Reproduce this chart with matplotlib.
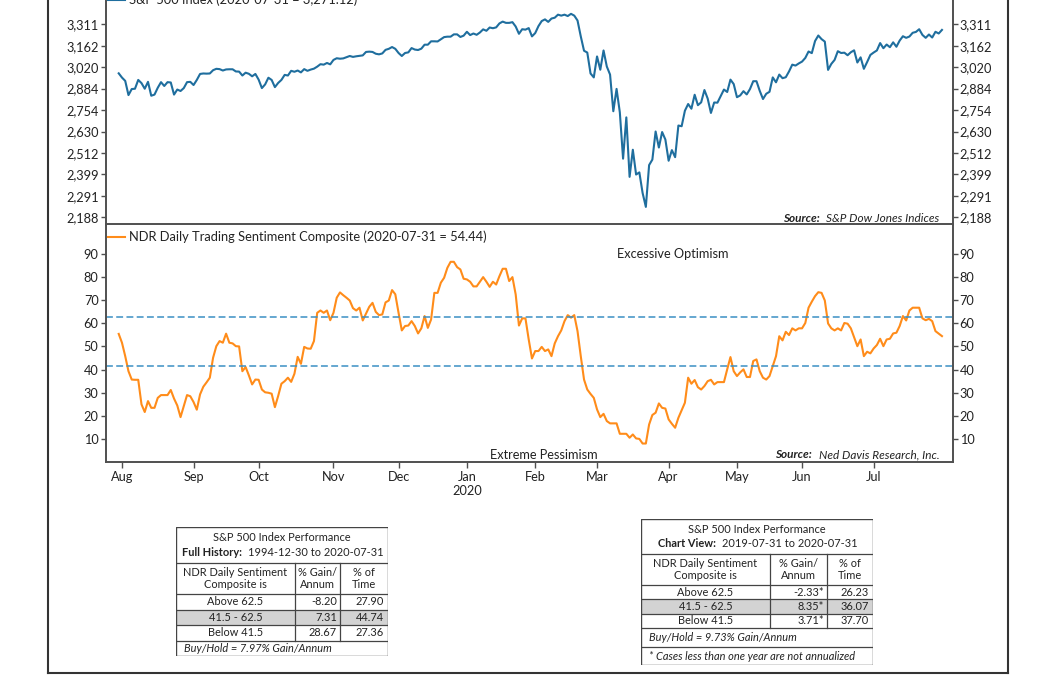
import matplotlib
matplotlib.use("Agg")
import matplotlib.pyplot as plt
import numpy as np
import pandas as pd
from matplotlib.ticker import FixedLocator, FuncFormatter, NullLocator
from matplotlib.lines import Line2D
from matplotlib.patches import Rectangle

plt.rcParams['font.family'] = ['Lato', 'DejaVu Sans']

# ---------------- data ----------------
holidays = ['2019-09-02', '2019-11-28', '2019-12-25', '2020-01-01', '2020-01-20',
            '2020-02-17', '2020-04-10', '2020-05-25', '2020-07-03']
sessions = pd.bdate_range('2019-07-31', '2020-07-31', freq='C', holidays=holidays)

spx = [2980,
       2953, 2932, 2844, 2881, 2883, 2938, 2918, 2883, 2926, 2840, 2847, 2889, 2924, 2900, 2924, 2922, 2847, 2878, 2869, 2887, 2924, 2926,
       2906, 2938, 2976, 2979, 2978, 2979, 3000, 3009, 3007, 2998, 3005, 3006, 3006, 2992, 2991, 2966, 2984, 2977, 2961, 2976,
       2940, 2887, 2910, 2952, 2938, 2893, 2919, 2938, 2970, 2966, 2996, 2990, 2998, 2986, 3007, 2996, 3004, 3010, 3023, 3039, 3036, 3047, 3038,
       3067, 3078, 3075, 3077, 3085, 3093, 3087, 3091, 3094, 3097, 3120, 3122, 3120, 3108, 3104, 3110, 3134, 3141, 3153, 3141,
       3113, 3093, 3113, 3117, 3146, 3136, 3133, 3142, 3169, 3169, 3192, 3192, 3191, 3206, 3221, 3224, 3224, 3240, 3240, 3222, 3231,
       3258, 3235, 3246, 3237, 3253, 3275, 3265, 3288, 3283, 3289, 3317, 3330, 3321, 3321, 3326, 3295, 3244, 3276, 3273, 3284, 3226,
       3249, 3298, 3334, 3346, 3328, 3352, 3358, 3380, 3373, 3380, 3370, 3386, 3373, 3338, 3226, 3128, 3116, 2979, 2954,
       3090, 3003, 3130, 3024, 2972, 2747, 2882, 2741, 2481, 2711, 2386, 2529, 2398, 2409, 2305, 2237, 2447, 2476, 2630, 2541, 2627, 2585,
       2470, 2527, 2489, 2664, 2660, 2750, 2790, 2762, 2846, 2783, 2800, 2875, 2823, 2737, 2799, 2798, 2837, 2878, 2863, 2940, 2912,
       2831, 2842, 2868, 2848, 2881, 2930, 2930, 2870, 2820, 2852, 2864, 2954, 2923, 2972, 2949, 2955, 2992, 3036, 3030, 3044,
       3056, 3080, 3123, 3112, 3194, 3232, 3207, 3190, 3002, 3041, 3067, 3125, 3113, 3115, 3098, 3118, 3131, 3050, 3084, 3009, 3053, 3100,
       3116, 3130, 3180, 3145, 3170, 3152, 3185, 3155, 3197, 3227, 3216, 3225, 3251, 3257, 3276, 3236, 3216, 3239, 3218, 3258, 3246, 3271.12]

sentiment = [55.4, 51.6, 45.8, 39.3, 35.7, 35.6, 35.6, 25.0, 21.7, 26.4,
             23.5, 23.5, 27.8, 29.0, 29.0, 29.0, 31.2, 27.5, 24.5, 19.5,
             24.2, 29.0, 28.5, 26.0, 22.7, 29.3, 32.6, 34.5, 36.5, 45.1,
             50.1, 52.3, 51.6, 55.5, 51.6, 51.3, 50.1, 50.0, 39.3, 41.1,
             37.5, 33.6, 35.7, 35.6, 31.4, 30.2, 30.0, 29.6, 23.8, 28.6,
             33.9, 35.0, 36.5, 34.7, 38.2, 45.5, 42.5, 49.8, 49.1, 49.0,
             52.3, 64.5, 65.5, 64.5, 65.5, 61.3, 64.5, 71.0, 73.3, 72.1,
             71.0, 69.8, 66.5, 65.5, 66.7, 61.2, 64.1, 67.1, 68.8, 64.9,
             63.5, 63.8, 69.0, 69.8, 74.3, 72.5, 64.5, 56.9, 58.8, 59.0,
             60.9, 58.8, 55.6, 57.8, 63.1, 58.0, 61.6, 73.1, 73.1, 77.5,
             79.6, 83.9, 86.5, 86.5, 84.2, 83.2, 79.2, 78.9, 77.9, 75.9,
             75.9, 77.9, 79.9, 77.9, 75.7, 77.9, 76.7, 80.3, 83.5, 83.5,
             78.2, 79.9, 72.4, 59.0, 62.1, 62.1, 53.0, 44.8, 48.0, 48.0,
             49.8, 48.0, 48.7, 45.8, 51.3, 54.4, 56.9, 60.9, 63.5, 62.4,
             63.5, 56.6, 45.8, 35.7, 31.4, 29.5, 27.8, 22.8, 19.5, 20.9,
             17.8, 16.8, 16.8, 16.8, 12.3, 12.3, 12.3, 10.6, 12.0, 10.3,
             10.1, 8.1, 8.1, 16.3, 20.4, 21.4, 25.4, 23.5, 23.2, 18.5,
             16.6, 14.9, 19.2, 22.4, 25.7, 36.5, 33.9, 35.5, 32.4, 31.4,
             32.9, 35.0, 35.6, 33.6, 34.6, 34.6, 34.6, 40.1, 45.4, 39.3,
             37.2, 38.8, 40.1, 36.8, 36.8, 43.7, 44.4, 39.3, 36.5, 35.7,
             37.2, 41.5, 45.8, 54.4, 52.6, 56.3, 54.9, 57.8, 56.9, 57.8,
             57.8, 60.1, 66.7, 69.3, 71.7, 73.4, 73.1, 69.8, 59.9, 57.8,
             56.9, 57.8, 56.9, 60.1, 59.8, 57.8, 54.0, 50.1, 53.0, 45.8,
             47.7, 47.0, 49.1, 50.6, 53.3, 50.1, 53.0, 53.3, 55.6, 55.9,
             58.8, 63.1, 61.2, 65.5, 66.7, 66.7, 66.7, 62.1, 61.3, 61.9,
             60.9, 56.6, 55.5, 54.44]

spx_ticks = [2188, 2291, 2399, 2512, 2630, 2754, 2884, 3020, 3162, 3311]
sent_ticks = [10, 20, 30, 40, 50, 60, 70, 80, 90]
upper_band = 62.5
lower_band = 41.5

spx_label = "S&P 500 Index (2020-07-31 = 3,271.12)"
sent_label = "NDR Daily Trading Sentiment Composite (2020-07-31 = 54.44)"

t1_period = ("Full History:", "1994-12-30 to 2020-07-31")
t2_period = ("Chart View:", "2019-07-31 to 2020-07-31")
row_names = ["Above 62.5", "41.5 - 62.5", "Below 41.5"]
t1_gain = ["-8.20", "7.31", "28.67"]
t1_time = ["27.90", "44.74", "27.36"]
t2_gain = ["-2.33*", "8.35*", "3.71*"]
t2_time = ["26.23", "36.07", "37.70"]
t1_footer = ["Buy/Hold = 7.97% Gain/Annum"]
t2_footer = ["Buy/Hold = 9.73% Gain/Annum", "* Cases less than one year are not annualized"]

assert len(sessions) == len(spx) == len(sentiment)

# ---------------- style ----------------
BLUE = '#1f6e9e'
ORANGE = '#ff8c1a'
DASH = '#3a8fc4'
SPINE = '#505050'
TXT = '#222222'

W, H = 1056, 675
fig = plt.figure(figsize=(W / 100, H / 100), dpi=100)


def box(l, t, r, b):
    return [l / W, 1 - b / H, (r - l) / W, (b - t) / H]


ax1 = fig.add_axes(box(105.5, -12.5, 952.7, 224.5))
ax2 = fig.add_axes(box(105.5, 224.5, 952.7, 462.3))

x = np.arange(len(sessions))
xlim = (-4.06, 256.3)

for ax in (ax1, ax2):
    for s in ax.spines.values():
        s.set_color(SPINE)
        s.set_linewidth(1.4)
    ax.set_xlim(*xlim)
    ax.tick_params(axis='y', which='both', left=True, right=True, labelleft=True,
                   labelright=True, direction='out', length=3.5, width=1.0,
                   color=SPINE, labelsize=9.2, pad=1.5, labelcolor=TXT)

LEG = dict(loc='upper left', bbox_to_anchor=(0.0, 0.985), frameon=False, fontsize=9.3,
           handlelength=1.32, handletextpad=0.32, borderaxespad=0.0, borderpad=0.2,
           labelcolor=TXT)

# top panel
l1, = ax1.plot(x, spx, color=BLUE, lw=1.5, solid_joinstyle='round')
ax1.set_yscale('log')
ax1.set_ylim(2154, 3583)
ax1.yaxis.set_major_locator(FixedLocator(spx_ticks))
ax1.yaxis.set_minor_locator(NullLocator())
ax1.yaxis.set_major_formatter(FuncFormatter(lambda v, p: f"{int(round(v)):,}"))
ax1.tick_params(axis='x', bottom=False, labelbottom=False)
ax1.legend([l1], [spx_label], **LEG)
src1 = ax1.text(0.9845, 0.027, "S&P Dow Jones Indices", transform=ax1.transAxes,
                ha='right', va='center', fontsize=8.5, style='italic', color=TXT)
ax1.annotate("Source:", xy=(0, 0.5), xycoords=src1, xytext=(-5, 0),
             textcoords='offset points', ha='right', va='center', fontsize=8.5,
             style='italic', weight='bold', color=TXT)

# bottom panel
l2, = ax2.plot(x, sentiment, color=ORANGE, lw=1.5, solid_joinstyle='round')
for lvl in (upper_band, lower_band):
    ax2.axhline(lvl, color=DASH, lw=1.1, dashes=(4.5, 2.2))
ax2.set_ylim(0, 102.6)
ax2.yaxis.set_major_locator(FixedLocator(sent_ticks))
month_idx = [i for i in range(1, len(sessions)) if sessions[i].month != sessions[i - 1].month]
month_lab = [sessions[i].strftime('%b') + ("\n2020" if sessions[i].month == 1 else "") for i in month_idx]
ax2.set_xticks(month_idx)
ax2.set_xticklabels(month_lab)
ax2.tick_params(axis='x', direction='out', length=4, width=1.0, color=SPINE,
                labelsize=9.2, pad=2, labelcolor=TXT)
ax2.legend([l2], [sent_label], **LEG)
ax2.text(0.669, 0.877, "Excessive Optimism", transform=ax2.transAxes, ha='center',
         va='center', fontsize=9.2, color=TXT)
ax2.text(0.517, 0.031, "Extreme Pessimism", transform=ax2.transAxes, ha='center',
         va='center', fontsize=9.2, color=TXT)
src2 = ax2.text(0.9845, 0.031, "Ned Davis Research, Inc.", transform=ax2.transAxes,
                ha='right', va='center', fontsize=8.5, style='italic', color=TXT)
ax2.annotate("Source:", xy=(0, 0.5), xycoords=src2, xytext=(-5, 0),
             textcoords='offset points', ha='right', va='center', fontsize=8.5,
             style='italic', weight='bold', color=TXT)

# outer frame
for (xa, ya), (xb, yb) in [((48, 0), (48, 673)), ((48, 673), (1008, 673)), ((1008, 673), (1008, 0))]:
    fig.add_artist(Line2D([xa / W, xb / W], [1 - ya / H, 1 - yb / H], color='#333333', lw=1.5))


# ---------------- tables ----------------
def draw_table(l, t, w, h, rows_y, cols_x, period, gains, times, footers, bold_right, plain_left):
    ax = fig.add_axes(box(l, t, l + w, t + h))
    ax.set_xlim(0, w)
    ax.set_ylim(h, 0)
    ax.axis('off')
    fs = 7.9
    lc = '#444444'
    title_b, head_b, r1, r2, r3 = rows_y[:5]
    ax.add_patch(Rectangle((0, r1), w, r2 - r1, facecolor='#d3d3d3', edgecolor='none'))
    ax.add_patch(Rectangle((0, 0), w, h, facecolor='none', edgecolor=lc, lw=1.0))
    for yy in rows_y[:-1]:
        ax.plot([0, w], [yy, yy], color=lc, lw=0.9)
    for xx in cols_x:
        ax.plot([xx, xx], [title_b, r3], color=lc, lw=0.9)
    ax.text(w / 2, title_b * 0.29, "S&P 500 Index Performance", ha='center', va='center', fontsize=fs, color=TXT)
    ax.text(bold_right, title_b * 0.71, period[0], ha='right', va='center', fontsize=fs, weight='bold', color=TXT)
    ax.text(plain_left, title_b * 0.71, period[1], ha='left', va='center', fontsize=fs, color=TXT)
    hy = (title_b + head_b) / 2
    ax.text(cols_x[0] / 2, hy, "NDR Daily Sentiment\nComposite is", ha='center', va='center', fontsize=fs, color=TXT, linespacing=1.15)
    ax.text((cols_x[0] + cols_x[1]) / 2, hy, "% Gain/\nAnnum", ha='center', va='center', fontsize=fs, color=TXT, linespacing=1.15)
    ax.text((cols_x[1] + w) / 2, hy, "% of\nTime", ha='center', va='center', fontsize=fs, color=TXT, linespacing=1.15)
    bounds = [head_b, r1, r2, r3]
    for k in range(3):
        cy = (bounds[k] + bounds[k + 1]) / 2
        ax.text(cols_x[0] / 2, cy, row_names[k], ha='center', va='center', fontsize=fs, color=TXT)
        ax.text(cols_x[1] - 3, cy, gains[k], ha='right', va='center', fontsize=fs, color=TXT)
        ax.text(w - 4, cy, times[k], ha='right', va='center', fontsize=fs, color=TXT)
    fb = rows_y[4:]
    for k, ft in enumerate(footers):
        cy = (fb[k] + fb[k + 1]) / 2
        ax.text(8, cy, ft, ha='left', va='center', fontsize=fs, style='italic', color=TXT)


draw_table(176, 527.3, 212, 129, [35.4, 66.7, 82.5, 98, 113.3, 129], [119, 164],
           t1_period, t1_gain, t1_time, t1_footer, 65.7, 72.3)
draw_table(641, 519.3, 232, 145.7, [34.7, 65.7, 80, 94.3, 108.7, 128, 145.7], [129, 185.7],
           t2_period, t2_gain, t2_time, t2_footer, 75, 80.7)

fig.savefig('out.png', dpi=100)
